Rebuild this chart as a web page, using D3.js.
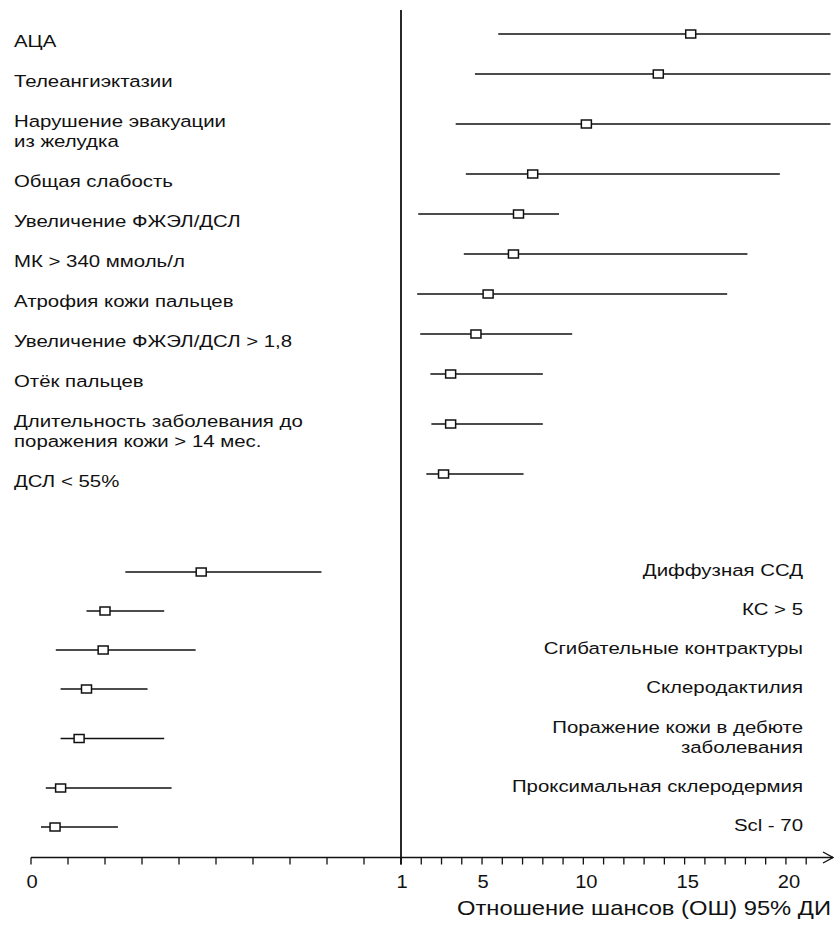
<!DOCTYPE html>
<html>
<head>
<meta charset="utf-8">
<script src="https://cdn.jsdelivr.net/npm/d3@7"></script>
<style>
  html, body { margin: 0; padding: 0; background: #fff; }
  svg { display: block; }
  text { font-family: "Liberation Sans", Arial, sans-serif; fill: #111; }
</style>
</head>
<body>
<svg id="chart" width="834" height="925"></svg>
<script>
// ---------- DATA ----------
// Upper group: factors with OR > 1
const topLabels = [
  ["АЦА"],
  ["Телеангиэктазии"],
  ["Нарушение эвакуации", "из желудка"],
  ["Общая слабость"],
  ["Увеличение ФЖЭЛ/ДСЛ"],
  ["МК > 340 ммоль/л"],
  ["Атрофия кожи пальцев"],
  ["Увеличение ФЖЭЛ/ДСЛ > 1,8"],
  ["Отёк пальцев"],
  ["Длительность заболевания до", "поражения кожи > 14 мес."],
  ["ДСЛ < 55%"]
];
const topOR    = [15.3, 13.7, 10.15, 7.5, 6.8, 6.55, 5.3, 4.7, 3.45, 3.45, 3.1];
const topLower = [5.8, 4.65, 3.7, 4.2, 1.85, 4.1, 1.8, 1.95, 2.45, 2.5, 2.25];
const topUpper = [25, 25, 25, 19.7, 8.8, 18.1, 17.1, 9.45, 8.0, 8.0, 7.05]; // first three run past the axis end

// Lower group: factors with OR < 1
const botLabels = [
  ["Диффузная ССД"],
  ["КС > 5"],
  ["Сгибательные контрактуры"],
  ["Склеродактилия"],
  ["Поражение кожи в дебюте", "заболевания"],
  ["Проксимальная склеродермия"],
  ["Scl - 70"]
];
const botOR    = [0.46, 0.20, 0.195, 0.15, 0.13, 0.08, 0.065];
const botLower = [0.255, 0.15, 0.067, 0.08, 0.08, 0.04, 0.027];
const botUpper = [0.785, 0.36, 0.445, 0.315, 0.36, 0.38, 0.235];

// Axis
const tickValues = d3.range(0, 1, 0.1).concat(d3.range(1, 22, 1));
const tickLabels = [0, 1, 5, 10, 15, 20];
const axisTitle = "Отношение шансов (ОШ) 95% ДИ";

// ---------- LAYOUT ----------
const svg = d3.select("#chart");
const axisY = 857.5;
const x = d3.scaleLinear().domain([0, 1, 22.2]).range([31, 401, 830.5]).clamp(true);
const SX = 1.2;     // horizontal stretch of the lettering
const FS = 17;      // label font size

// row centres: one-line rows take `unit`, two-line rows take `unit2`
function rowCentres(labels, start, unit, unit2) {
  const out = [];
  let pos = start;
  labels.forEach((l, i) => {
    const h = l.length > 1 ? unit2 : unit;
    if (i > 0) {
      const hp = labels[i - 1].length > 1 ? unit2 : unit;
      pos += hp / 2 + h / 2;
    }
    out.push(pos);
  });
  return out;
}

const topY = rowCentres(topLabels, 41, 40, 60);
const botY = rowCentres(botLabels, 570, 39, 60);

function drawLabels(labels, ys, xPos, anchor) {
  labels.forEach((lines, i) => {
    const g = svg.append("g")
      .attr("transform", `translate(${xPos},${ys[i]}) scale(${SX},1)`);
    lines.forEach((t, k) => {
      g.append("text")
        .attr("x", 0)
        .attr("y", (k - (lines.length - 1) / 2) * 20)
        .attr("dy", "0.36em")
        .attr("text-anchor", anchor)
        .style("font-size", FS + "px")
        .text(t);
    });
  });
}

function drawMarks(ors, lo, hi, ys, dy) {
  const rows = ors.map((o, i) => ({ or: o, lo: lo[i], hi: hi[i], y: ys[i] + dy }));
  svg.append("g").selectAll("line").data(rows).join("line")
    .attr("x1", d => x(d.lo)).attr("x2", d => x(d.hi))
    .attr("y1", d => d.y).attr("y2", d => d.y)
    .attr("stroke", "#111").attr("stroke-width", 1.4);
  svg.append("g").selectAll("rect").data(rows).join("rect")
    .attr("x", d => x(d.or) - 5).attr("y", d => d.y - 4)
    .attr("width", 10).attr("height", 8)
    .attr("fill", "#fff").attr("stroke", "#111").attr("stroke-width", 1.5);
}

drawLabels(topLabels, topY, 14, "start");
drawLabels(botLabels, botY, 803, "end");

// reference line at OR = 1
svg.append("line")
  .attr("x1", x(1)).attr("x2", x(1))
  .attr("y1", 10).attr("y2", axisY + 7)
  .attr("stroke", "#111").attr("stroke-width", 1.8);

drawMarks(topOR, topLower, topUpper, topY, -7);
drawMarks(botOR, botLower, botUpper, botY, 2);

// x axis
const axisG = svg.append("g");
axisG.append("line")
  .attr("x1", x(0)).attr("x2", 833)
  .attr("y1", axisY).attr("y2", axisY)
  .attr("stroke", "#111").attr("stroke-width", 1.4);
axisG.append("path")
  .attr("d", `M823,${axisY - 5.5} L833,${axisY} L823,${axisY + 5.5}`)
  .attr("fill", "none").attr("stroke", "#111").attr("stroke-width", 1.3);
axisG.selectAll("line.tick").data(tickValues).join("line")
  .attr("class", "tick")
  .attr("x1", d => x(d)).attr("x2", d => x(d))
  .attr("y1", axisY).attr("y2", axisY + 7)
  .attr("stroke", "#111").attr("stroke-width", 1.3);
tickLabels.forEach(v => {
  axisG.append("g")
    .attr("transform", `translate(${x(v) + (v >= 10 ? 3 : 1)},888) scale(1.15,1)`)
    .append("text")
    .attr("text-anchor", "middle")
    .style("font-size", "17.5px")
    .text(v);
});
svg.append("g")
  .attr("transform", `translate(831,915) scale(${SX},1)`)
  .append("text")
  .attr("text-anchor", "end")
  .style("font-size", "19.8px")
  .text(axisTitle);
</script>
</body>
</html>
